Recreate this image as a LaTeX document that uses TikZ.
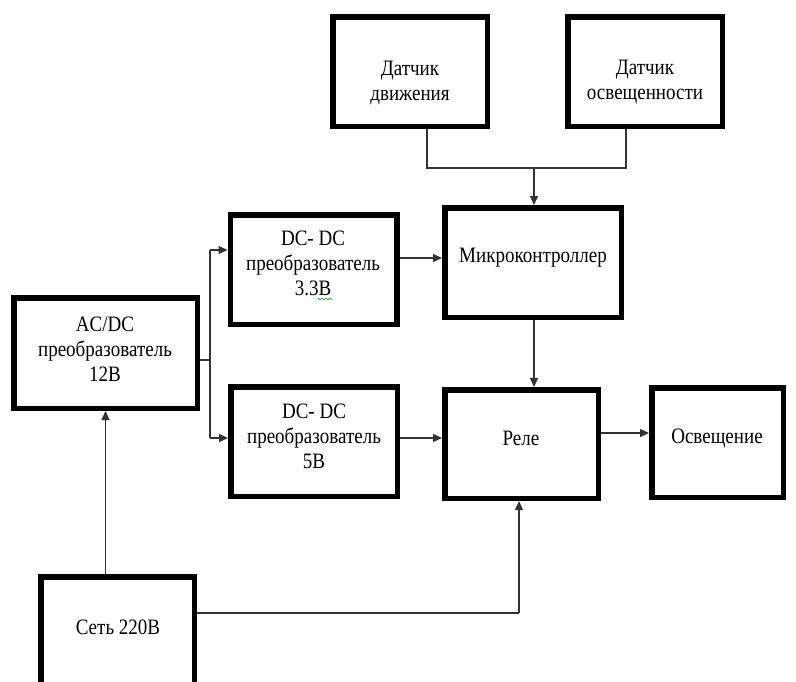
\documentclass[tikz,border=0pt]{standalone}
\usepackage{fontspec}
\setmainfont{Liberation Serif}
\usetikzlibrary{arrows.meta}
\newcommand{\sq}[1]{\scalebox{0.865}[1]{#1}}
\begin{document}
\begin{tikzpicture}[x=1pt,y=-1pt,
  box/.style={draw=black, line width=5.5pt, inner sep=0pt, rectangle},
  txt/.style={align=center, font=\fontsize{22}{25}\selectfont, inner sep=0pt},
  con/.style={draw=black!80, line width=1.3pt},
  arr/.style={con, -{Triangle[length=9pt,width=8pt]}}]
\useasboundingbox (0,0) rectangle (796,681);
\clip (0,0) rectangle (796,681);
\fill[white] (0,0) rectangle (796,681);
% boxes
\node[box, minimum width=154.5pt, minimum height=109.5pt] (dv) at (410,71.5) {};
\node[box, minimum width=154.5pt, minimum height=109.5pt] (do) at (645,71.5) {};
\node[box, minimum width=176.5pt, minimum height=109.5pt] (mc) at (533,262.5) {};
\node[box, minimum width=166.5pt, minimum height=109.5pt] (dc3) at (313.5,269.5) {};
\node[box, minimum width=166.5pt, minimum height=109.5pt] (dc5) at (314,441.5) {};
\node[box, minimum width=153.5pt, minimum height=108.5pt] (rele) at (521.5,444) {};
\node[box, minimum width=131.5pt, minimum height=109.5pt] (osv) at (717.5,442.5) {};
\node[box, minimum width=183.5pt, minimum height=110.5pt] (acdc) at (105.5,353) {};
\node[box, minimum width=153.5pt, minimum height=160.5pt] (set) at (117.5,657) {};
% texts
\node[txt] (tdv) at (410,82.5) {\sq{Датчик}\\\sq{движения}};
\node[txt] (tdo) at (645,82.5) {\sq{Датчик}\\\sq{освещенности}};
\node[txt] (tmc) at (533,258) {\sq{Микроконтроллер}};
\node[txt] (tdc3) at (313,263) {\sq{DC- DC}\\\sq{преобразователь}\\\sq{3.3В}};
\node[txt] (tdc5) at (314,436) {\sq{DC- DC}\\\sq{преобразователь}\\\sq{5В}};
\node[txt] (trele) at (521,438) {\sq{Реле}};
\node[txt] (tosv) at (717,438) {\sq{Освещение}};
\node[txt] (tacdc) at (105,349) {\sq{AC/DC}\\\sq{преобразователь}\\\sq{12В}};
\node[txt] (tset) at (118,627) {\sq{Сеть 220В}};
% spell-check squiggle
\draw[green!60!black, line width=0.6pt] (318,298) -- (320,300) -- (322,298) -- (324,300) -- (326,298) -- (328,300) -- (330,298) -- (332,300);
% junction coordinates
\coordinate (j1) at (534,168);
\coordinate (jl) at (427,168);
\coordinate (jr) at (626,168);
\coordinate (a1) at (420,258);
\coordinate (a2) at (420,438);
\coordinate (a3) at (625,433);
\coordinate (s) at (210,360);
\coordinate (s3) at (210,250);
\coordinate (s5) at (210,438);
\coordinate (r) at (519,613);
% connectors
\draw[con] (jl |- dv.south) -- (jl) -- (jr) -- (jr |- do.south);
\draw[arr] (j1) -- (j1 |- mc.north);
\draw[arr] (dc3.east |- a1) -- (mc.west |- a1);
\draw[arr] (j1 |- mc.south) -- (j1 |- rele.north);
\draw[arr] (dc5.east |- a2) -- (rele.west |- a2);
\draw[arr] (rele.east |- a3) -- (osv.west |- a3);
\draw[con] (acdc.east |- s) -- (s);
\draw[con] (s3) -- (s5);
\draw[arr] (s3) -- (dc3.west |- s3);
\draw[arr] (s5) -- (dc5.west |- s5);
\draw[arr] (acdc.south |- set.north) -- (acdc.south);
\draw[con] (set.east |- r) -- (r);
\draw[arr] (r) -- (r |- rele.south);
\end{tikzpicture}
\end{document}
